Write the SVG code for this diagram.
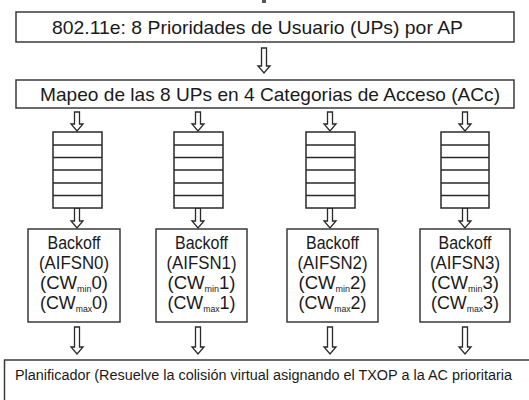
<svg xmlns="http://www.w3.org/2000/svg" width="529" height="400" viewBox="0 0 529 400">
<style>
.box{fill:#fff;stroke:#3a3a3a;stroke-width:1.5}
.q{fill:#fff;stroke:#2a2a2a;stroke-width:1.5}
.ql{stroke:#2a2a2a;stroke-width:1.6}
.arr{fill:#fff;stroke:#2a2a2a;stroke-width:1.3;stroke-linejoin:miter}
text{font-family:"Liberation Sans",Arial,sans-serif;fill:#1a1a1a}
.t1{font-size:19px}
.t2{font-size:17.5px;text-anchor:middle}
.sub{font-size:8.5px}
.t3{font-size:14px}
</style>
<rect x="0" y="0" width="529" height="400" fill="#fff"/>
<rect x="262" y="0" width="4" height="3" fill="#555"/>

<g id="connectors">
<path class="arr" d="M261.5,48 H266.5 V66 H270 L264,73 L258,66 H261.5 Z"/>
<path class="arr" d="M74.5,112 H79.5 V124 H83 L77,131 L71,124 H74.5 Z"/>
<path class="arr" d="M195.5,112 H200.5 V124 H204 L198,131 L192,124 H195.5 Z"/>
<path class="arr" d="M327.5,112 H332.5 V124 H336 L330,131 L324,124 H327.5 Z"/>
<path class="arr" d="M462.5,112 H467.5 V124 H471 L465,131 L459,124 H462.5 Z"/>
<path class="arr" d="M74.5,208 H79.5 V221 H83 L77,228 L71,221 H74.5 Z"/>
<path class="arr" d="M195.5,208 H200.5 V221 H204 L198,228 L192,221 H195.5 Z"/>
<path class="arr" d="M327.5,208 H332.5 V221 H336 L330,228 L324,221 H327.5 Z"/>
<path class="arr" d="M462.5,208 H467.5 V221 H471 L465,228 L459,221 H462.5 Z"/>
<path class="arr" d="M74.5,327 H79.5 V347 H83 L77,354 L71,347 H74.5 Z"/>
<path class="arr" d="M195.5,327 H200.5 V347 H204 L198,354 L192,347 H195.5 Z"/>
<path class="arr" d="M327.5,327 H332.5 V347 H336 L330,354 L324,347 H327.5 Z"/>
<path class="arr" d="M462.5,327 H467.5 V347 H471 L465,354 L459,347 H462.5 Z"/>
</g>

<g id="up">
<rect class="box" x="16" y="12" width="498" height="30"/>
<text class="t1" x="52" y="33.5" textLength="411" lengthAdjust="spacingAndGlyphs">802.11e: 8 Prioridades de Usuario (UPs) por AP</text>
</g>

<g id="mapeo">
<rect class="box" x="16" y="80" width="498" height="28"/>
<text class="t1" x="40" y="100.5" textLength="460" lengthAdjust="spacingAndGlyphs">Mapeo de las 8 UPs en 4 Categorias de Acceso (ACc)</text>
</g>

<g id="queue0">
<rect class="q" x="53" y="132" width="49" height="76"/>
<path class="ql" d="M53,145H102M53,157.5H102M53,170H102M53,183H102M53,195.5H102"/>
</g>
<g id="queue1">
<rect class="q" x="174" y="132" width="49" height="76"/>
<path class="ql" d="M174,145H223M174,157.5H223M174,170H223M174,183H223M174,195.5H223"/>
</g>
<g id="queue2">
<rect class="q" x="306" y="132" width="49" height="76"/>
<path class="ql" d="M306,145H355M306,157.5H355M306,170H355M306,183H355M306,195.5H355"/>
</g>
<g id="queue3">
<rect class="q" x="441" y="132" width="48" height="76"/>
<path class="ql" d="M441,145H489M441,157.5H489M441,170H489M441,183H489M441,195.5H489"/>
</g>

<g id="backoff0">
<rect class="box" x="28" y="229" width="92" height="93"/>
<text class="t2" x="74" y="249" textLength="53" lengthAdjust="spacingAndGlyphs">Backoff</text>
<text class="t2" x="74" y="269" textLength="70" lengthAdjust="spacingAndGlyphs">(AIFSN0)</text>
<text class="t2" x="74" y="289" textLength="68" lengthAdjust="spacingAndGlyphs">(CW<tspan class="sub" dy="3">min</tspan><tspan dy="-3">0)</tspan></text>
<text class="t2" x="74" y="309" textLength="68" lengthAdjust="spacingAndGlyphs">(CW<tspan class="sub" dy="3">max</tspan><tspan dy="-3">0)</tspan></text>
</g>
<g id="backoff1">
<rect class="box" x="156" y="229" width="91" height="93"/>
<text class="t2" x="201.5" y="249" textLength="53" lengthAdjust="spacingAndGlyphs">Backoff</text>
<text class="t2" x="201.5" y="269" textLength="70" lengthAdjust="spacingAndGlyphs">(AIFSN1)</text>
<text class="t2" x="201.5" y="289" textLength="68" lengthAdjust="spacingAndGlyphs">(CW<tspan class="sub" dy="3">min</tspan><tspan dy="-3">1)</tspan></text>
<text class="t2" x="201.5" y="309" textLength="68" lengthAdjust="spacingAndGlyphs">(CW<tspan class="sub" dy="3">max</tspan><tspan dy="-3">1)</tspan></text>
</g>
<g id="backoff2">
<rect class="box" x="287" y="229" width="91" height="93"/>
<text class="t2" x="332.5" y="249" textLength="53" lengthAdjust="spacingAndGlyphs">Backoff</text>
<text class="t2" x="332.5" y="269" textLength="70" lengthAdjust="spacingAndGlyphs">(AIFSN2)</text>
<text class="t2" x="332.5" y="289" textLength="68" lengthAdjust="spacingAndGlyphs">(CW<tspan class="sub" dy="3">min</tspan><tspan dy="-3">2)</tspan></text>
<text class="t2" x="332.5" y="309" textLength="68" lengthAdjust="spacingAndGlyphs">(CW<tspan class="sub" dy="3">max</tspan><tspan dy="-3">2)</tspan></text>
</g>
<g id="backoff3">
<rect class="box" x="420" y="229" width="90" height="93"/>
<text class="t2" x="465" y="249" textLength="53" lengthAdjust="spacingAndGlyphs">Backoff</text>
<text class="t2" x="465" y="269" textLength="70" lengthAdjust="spacingAndGlyphs">(AIFSN3)</text>
<text class="t2" x="465" y="289" textLength="68" lengthAdjust="spacingAndGlyphs">(CW<tspan class="sub" dy="3">min</tspan><tspan dy="-3">3)</tspan></text>
<text class="t2" x="465" y="309" textLength="68" lengthAdjust="spacingAndGlyphs">(CW<tspan class="sub" dy="3">max</tspan><tspan dy="-3">3)</tspan></text>
</g>

<g id="planificador">
<path class="box" d="M529,360 H4.5 V400" fill="none"/>
<text class="t3" x="15" y="380" textLength="497" lengthAdjust="spacingAndGlyphs">Planificador (Resuelve la colisión virtual asignando el TXOP a la AC prioritaria</text>
</g>
</svg>
